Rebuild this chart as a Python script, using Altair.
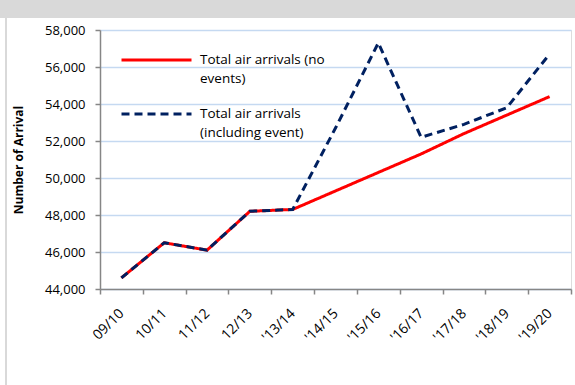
import altair as alt
import pandas as pd

# Financial years on the x axis
years = ["09/10", "10/11", "11/12", "12/13", "'13/14", "'14/15",
         "'15/16", "'16/17", "'17/18", "'18/19", "'19/20"]

# Total air arrivals, baseline projection without events
no_events = [44600, 46500, 46100, 48200, 48300, 49300,
             50300, 51300, 52400, 53400, 54400]

# Total air arrivals including the event years
with_event = [44600, 46500, 46100, 48200, 48300, 52700,
              57300, 52200, 52900, 53800, 56700]

series_names = ["Total air arrivals (no events)",
                "Total air arrivals (including event)"]
series_colors = ["#FF0000", "#002060"]
series_dashes = [[1, 0], [8, 5]]

rows = []
for name, values in zip(series_names, [no_events, with_event]):
    for yr, v in zip(years, values):
        rows.append({"year": yr, "arrivals": v, "series": name})
df = pd.DataFrame(rows)

FONT = "Open Sans"

x_enc = alt.X(
    "year:N",
    sort=years,
    bandPosition=0.5,
    scale=alt.Scale(type="band", paddingInner=0, paddingOuter=0),
    axis=alt.Axis(
        title=None, labelAngle=-45, labelAlign="right",
        labelBaseline="middle", tickBand="extent", grid=False,
        domainColor="#868686", domainWidth=1.5, tickColor="#868686",
        tickWidth=1.5, tickSize=5, labelFont=FONT, labelFontSize=14,
        labelColor="#000000", labelPadding=17,
    ),
)
y_enc = alt.Y(
    "arrivals:Q",
    scale=alt.Scale(domain=[44000, 58000], nice=False, zero=False),
    axis=alt.Axis(
        title="Number of Arrival", values=list(range(44000, 58001, 2000)),
        format=",.0f", gridColor="#C5D9F1", gridWidth=1.5,
        domainColor="#868686", domainWidth=1.5, tickColor="#868686",
        tickWidth=1.5, tickSize=5, labelFont=FONT, labelFontSize=13,
        labelColor="#000000", labelPadding=10, titleFont=FONT,
        titleFontSize=12, titleFontWeight="bold", titleColor="#000000",
        titlePadding=19,
    ),
)

color_enc = alt.Color(
    "series:N",
    scale=alt.Scale(domain=series_names, range=series_colors),
    legend=alt.Legend(
        title=None, orient="none", legendX=20, legendY=3,
        symbolType="stroke", symbolSize=4900, symbolStrokeWidth=3,
        labelFont=FONT, labelFontSize=13.5, labelColor="#000000",
        labelOffset=7, labelLimit=300, rowPadding=0, padding=0,
        clipHeight=54, labelBaseline="middle",
        labelExpr=("datum.value == 'Total air arrivals (no events)' ? "
                   "['Total air arrivals (no', 'events)'] : "
                   "['Total air arrivals', '(including event)']"),
    ),
)
dash_enc = alt.StrokeDash(
    "series:N",
    scale=alt.Scale(domain=series_names, range=series_dashes),
    legend=None,
)

base = alt.Chart(df)
red_line = base.transform_filter(
    alt.datum.series == series_names[0]
).mark_line(strokeWidth=3).encode(
    x=x_enc, y=y_enc, color=color_enc, strokeDash=dash_enc
)
blue_line = base.transform_filter(
    alt.datum.series == series_names[1]
).mark_line(strokeWidth=3).encode(
    x=x_enc, y=y_enc, color=color_enc, strokeDash=dash_enc
)

# Window frame: grey header band and left edge line
frame_df = pd.DataFrame({"k": [0]})
header = alt.Chart(frame_df).mark_rect(color="#D9D9D9").encode(
    x=alt.value(-100), x2=alt.value(475), y=alt.value(-30), y2=alt.value(-12)
)
edge = alt.Chart(frame_df).mark_rect(color="#D9D9D9").encode(
    x=alt.value(-95), x2=alt.value(-93), y=alt.value(-12), y2=alt.value(360)
)

chart = alt.layer(header, edge, red_line, blue_line).properties(
    width=471, height=259,
    autosize=alt.AutoSizeParams(type="none"),
    padding={"left": 100, "top": 30, "right": 4, "bottom": 96},
    background="#FFFFFF",
).configure_view(
    stroke=None
).configure(
    style={"guide-label": {"lineHeight": 19}}
)

chart.save("out.html", embed_options={"renderer": "svg", "actions": False})
